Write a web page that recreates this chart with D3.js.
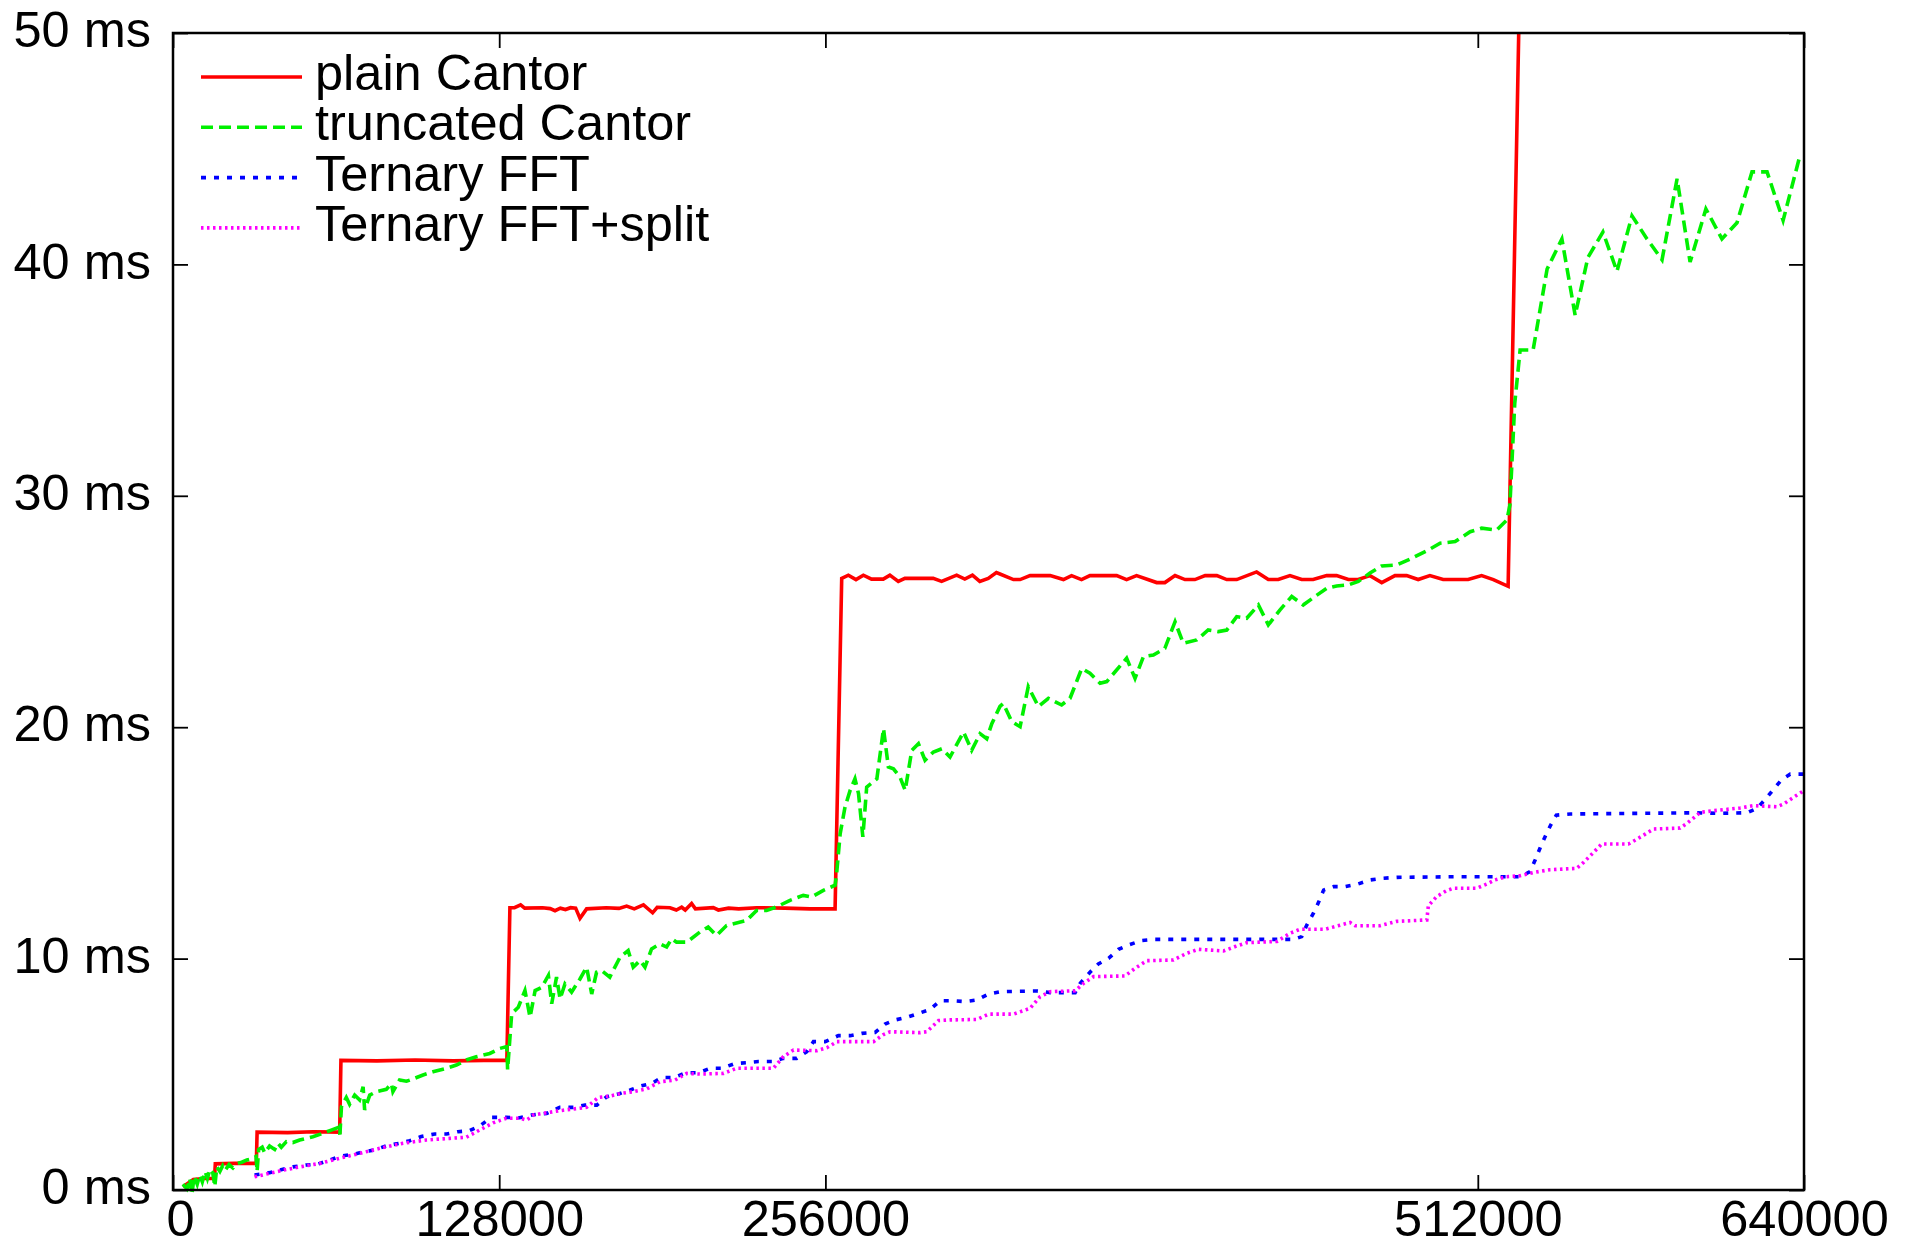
<!DOCTYPE html>
<html>
<head>
<meta charset="utf-8">
<script src="https://cdn.jsdelivr.net/npm/d3@7"></script>
<style>
  body { margin: 0; background: #fff; }
  svg { display: block; font-family: "Liberation Sans", Arial, sans-serif; }
</style>
</head>
<body>
<svg id="chart" width="1908" height="1243"></svg>
<script>
// x values are in thousands of elements, y values in ms
const xTicks = [0, 128, 256, 512, 640];
const yTicks = [0, 10, 20, 30, 40, 50];

const seriesNames = ["plain Cantor", "truncated Cantor", "Ternary FFT", "Ternary FFT+split"];

const plainCantor = [
  [3.9,0.14],[8.0,0.45],[12,0.5],[16.3,0.5],[16.6,1.13],[24,1.15],[32.7,1.15],[33.0,2.5],[45,2.48],[55,2.52],
  [65.4,2.5],[65.9,5.6],[80,5.58],[95,5.62],[110,5.58],[122,5.6],[131.0,5.6],
  [132.2,12.2],[134,12.2],[136.4,12.32],[138,12.18],[145,12.2],[148,12.16],[149.9,12.07],[152,12.18],[154,12.12],
  [156,12.2],[158,12.18],[159.7,11.74],[162.3,12.15],[170,12.2],[175,12.17],[178,12.27],[181,12.15],[184.6,12.32],
  [188.2,11.98],[190,12.22],[195,12.2],[197.5,12.1],[199.6,12.22],[201,12.1],[203.5,12.38],[205,12.15],[212,12.2],
  [214,12.1],[218,12.18],[222,12.15],[229,12.2],[240,12.18],[250,12.15],[259.8,12.15],
  [262.4,26.43],[265.0,26.57],[268.0,26.38],[270.9,26.57],[274.1,26.4],[278.7,26.4],[281.3,26.57],[284.6,26.3],
  [287.2,26.43],[298.3,26.43],[301.6,26.3],[307.5,26.57],[310.7,26.4],[313.7,26.57],[316.6,26.3],[319.9,26.43],
  [323.1,26.68],[324.5,26.62],[329.8,26.38],[332.4,26.38],[336.3,26.55],[344.2,26.55],[349.4,26.38],[352.6,26.55],
  [356.5,26.38],[359.8,26.55],[370.3,26.55],[374.2,26.38],[378.1,26.55],[386,26.25],[389.2,26.25],[393.2,26.55],
  [397.1,26.38],[401,26.38],[405,26.55],[409.6,26.55],[413.5,26.38],[417.4,26.38],[425.2,26.71],[429.8,26.38],
  [433.7,26.38],[438.3,26.55],[442.9,26.38],[447.4,26.38],[452.7,26.55],[456.6,26.55],[461.2,26.38],[465.1,26.38],
  [469.7,26.55],[474.3,26.25],[479.5,26.55],[484.1,26.55],[488.6,26.38],[493.2,26.55],[498.4,26.38],[508.2,26.38],
  [513.5,26.55],[518.1,26.38],[523.9,26.09],[529.8,60]
];

const truncatedCantor = [
  [3.9,0.25],[5.5,0.05],[6.6,0.5],[7.4,-0.2],[8.3,0.6],[9.5,0.25],[10.5,0.65],[11.5,0.35],[12.6,0.8],[13.5,0.5],
  [14.5,0.9],[15.6,0.75],[16.4,0.15],[17.2,1.0],[18.4,0.8],[19.5,1.05],[20.5,0.85],[22,1.1],[23.5,0.95],[25,1.15],
  [27,1.2],[29,1.3],[31,1.35],[32.6,1.45],[33.0,0.8],[33.6,1.75],[35,1.85],[36,1.6],[37.9,1.9],[39.9,1.75],
  [41.2,2.02],[42.5,1.85],[44.5,2.09],[47,2.05],[49.7,2.16],[52.3,2.23],[54.9,2.3],[58.9,2.45],[62.1,2.59],[64.7,2.7],
  [65.5,2.4],[66.1,3.6],[68,4.0],[69.3,3.7],[71.3,4.1],[73.2,3.9],[74.6,4.46],[75.2,3.46],[77.2,4.1],[79.8,4.25],
  [83.7,4.35],[85.7,4.6],[86.3,4.25],[88.9,4.75],[91.6,4.7],[94.2,4.8],[98.1,4.97],[102,5.11],[107.3,5.26],[111.2,5.4],
  [115.1,5.62],[119,5.76],[124.3,5.9],[128.3,6.12],[131.0,6.2],[131.3,5.2],[132.9,7.62],[135.5,7.9],[138.1,8.62],
  [140.1,7.47],[142.1,8.62],[144.7,8.76],[147.3,9.27],[148.6,8.05],[150.5,9.2],[151.9,8.26],[153.8,8.9],[156.4,8.55],
  [159.7,9.12],[162.3,9.63],[164.3,8.47],[166.2,9.41],[168.2,9.48],[171.4,9.2],[175.4,10.06],[178.6,10.35],[180.6,9.63],
  [183.3,9.92],[185.2,9.63],[187.8,10.42],[191.1,10.64],[193.7,10.5],[195.7,10.86],[197.6,10.71],[201.6,10.71],
  [206.8,11.15],[210.0,11.36],[213.3,11.0],[217.2,11.43],[225.1,11.65],[229.0,12.08],[232.9,12.08],[236.8,12.23],
  [242.1,12.52],[247.3,12.73],[250.6,12.66],[255.2,12.95],[259.8,13.17],[260.4,13.67],[261.8,15.4],[263.7,16.55],
  [265.7,17.27],[267.6,17.77],[269.0,17.13],[270.7,15.26],[272.2,17.41],[276.2,17.77],[278.8,19.94],[280.7,18.28],
  [282.7,18.2],[285.3,17.84],[287.3,17.27],[289.9,19.0],[292.5,19.29],[295.1,18.57],[298.4,18.93],[301.7,19.07],
  [304.9,18.71],[310.2,19.79],[313.4,19.0],[316.7,19.72],[319.3,19.5],[321.3,20.15],[324.5,20.9],[325.8,21.03],
  [329.1,20.24],[332.4,20.02],[335.6,21.75],[339.6,20.89],[343.5,21.25],[348.7,20.96],[352.0,21.25],[356.6,22.54],
  [359.8,22.33],[363.8,21.9],[366.4,21.97],[374.2,22.98],[377.5,22.11],[380.8,23.05],[384.7,23.12],[389.2,23.41],
  [393.2,24.56],[396.4,23.63],[401.7,23.77],[406.2,24.2],[410.2,24.13],[413.5,24.2],[417.4,24.78],[421.3,24.71],
  [425.9,25.28],[429.8,24.42],[434.4,25.07],[439.0,25.65],[443.5,25.28],[448.1,25.65],[452.7,26.0],[456.6,26.1],
  [461.2,26.15],[465.1,26.3],[469.7,26.66],[474.3,26.97],[480.2,27.01],[486.1,27.3],[492.6,27.66],[497.2,27.95],
  [503.1,28.02],[509.0,28.45],[513.5,28.6],[519.4,28.52],[523.4,28.95],[524.6,29.6],[526.5,34.0],[528.6,36.3],
  [533.7,36.3],[539.2,39.8],[545.0,41.1],[550.2,37.8],[555.2,40.3],[561.1,41.4],[566.6,39.7],[572.5,42.1],
  [578.4,41.1],[584.3,40.2],[590.2,43.7],[595.3,40.1],[601.5,42.4],[607.8,41.1],[613.7,41.8],[619.6,44.0],
  [625.5,44.0],[631.8,41.9],[638.4,44.7]
];

const ternaryFFT = [
  [32.0,0.65],[37.9,0.75],[41.9,0.86],[47.1,1.0],[52.3,1.08],[56.9,1.12],[61.5,1.3],[66.1,1.47],[70.6,1.54],
  [75.2,1.66],[79.1,1.73],[83.7,1.91],[88.9,2.02],[92.9,2.13],[97.4,2.31],[102.7,2.42],[107.3,2.42],[111.8,2.52],
  [116,2.55],[120.3,2.76],[124.9,3.14],[130.8,3.14],[136,3.12],[140.7,3.24],[146.6,3.31],[151.8,3.57],[157.1,3.57],
  [161.7,3.67],[166.3,3.67],[170.2,4.03],[174.8,4.15],[179.4,4.32],[183.3,4.49],[187.9,4.61],[191.8,4.86],[196.7,4.86],
  [201.3,5.07],[206.3,5.07],[210.8,5.26],[215.4,5.26],[220.6,5.47],[225.1,5.5],[229.7,5.55],[235,5.55],[239.5,5.69],
  [244.7,5.69],[248.7,5.98],[251.3,6.41],[255.9,6.41],[261.1,6.67],[265.7,6.67],[270.3,6.77],[275.5,6.81],[279.4,7.17],
  [283.4,7.35],[287.9,7.46],[292.5,7.63],[297.1,7.8],[301,8.18],[305.6,8.18],[310.8,8.14],[315.4,8.21],[320,8.47],
  [324.5,8.57],[339,8.6],[344.2,8.53],[354,8.53],[356,8.93],[360,9.43],[363.1,9.77],[367.1,10.01],[371,10.4],
  [374.9,10.59],[380.1,10.78],[384.7,10.83],[439.6,10.83],[442.9,10.95],[444.9,11.45],[447.5,11.96],[449.5,12.43],
  [451.5,12.96],[455.4,13.11],[460,13.11],[464.6,13.21],[469.8,13.4],[474.4,13.47],[480.2,13.51],[503.7,13.54],
  [528.6,13.54],[532.5,13.76],[534.5,14.26],[536.4,14.77],[538.4,15.27],[540.6,15.77],[542.8,16.2],[548.3,16.25],
  [596.7,16.3],[607.1,16.28],[617.6,16.3],[621.5,16.49],[624.8,16.88],[628,17.31],[631.3,17.74],[634.6,17.97],[640,17.97]
];

const ternaryFFTsplit = [
  [32.0,0.57],[37.9,0.72],[43,0.85],[48.4,0.97],[57.6,1.15],[65.4,1.37],[73.2,1.58],[81.1,1.8],[90.3,2.02],
  [99.4,2.16],[108.6,2.23],[115.1,2.28],[120.3,2.59],[125.6,2.9],[130.8,3.1],[136.2,3.1],[138.8,3.02],[141.4,3.24],
  [146.6,3.34],[153.2,3.45],[162.3,3.57],[166.9,4.0],[171.5,4.06],[176.1,4.18],[180.7,4.25],[185.9,4.37],[191.1,4.68],
  [197,4.75],[201.6,5.04],[206.8,5.01],[216,5.04],[221.2,5.26],[235.6,5.26],[239.5,5.76],[243.5,6.05],[252.6,6.02],
  [256.6,6.15],[260.5,6.41],[274.9,6.41],[278.8,6.72],[281.4,6.84],[293.2,6.8],[295.8,6.84],[300.4,7.32],[304.9,7.35],
  [315.4,7.37],[320,7.6],[329.8,7.6],[336.3,7.85],[340.2,8.35],[344.2,8.57],[354,8.61],[357.3,8.93],[361.2,9.22],
  [373.6,9.25],[377.5,9.58],[382.1,9.91],[392.6,9.94],[397.8,10.23],[402.4,10.4],[412.2,10.33],[416.8,10.52],
  [421.4,10.69],[433.2,10.74],[438.4,11.1],[442.3,11.27],[452.1,11.27],[461.9,11.56],[463.9,11.42],[473.6,11.42],
  [480.2,11.61],[492,11.67],[492.6,12.29],[495.9,12.68],[499.8,12.94],[502.4,13.04],[511.6,13.04],[515.5,13.22],
  [518.7,13.4],[523.3,13.54],[528.6,13.58],[533.8,13.72],[540.3,13.84],[550.8,13.9],[553.5,14.16],[557.4,14.59],
  [560.6,14.95],[571.1,14.95],[574.4,15.16],[577.7,15.38],[580.9,15.6],[591.4,15.64],[594,15.84],[597.3,16.13],
  [599.3,16.32],[604.5,16.39],[615,16.51],[620.2,16.61],[629.3,16.56],[632,16.68],[635.9,16.97],[640,17.26]
];

const allSeries = [plainCantor, truncatedCantor, ternaryFFT, ternaryFFTsplit];

// line styles, one per series (gnuplot-ish)
const styles = [
  { color: "#ff0000", dash: null },
  { color: "#00f000", dash: "12,6" },
  { color: "#0000ff", dash: "5,8" },
  { color: "#ff00ff", dash: "2.5,3.5" }
];

const margin = { top: 33, right: 104, bottom: 53, left: 173 };
const width = 1908 - margin.left - margin.right;
const height = 1243 - margin.top - margin.bottom;

const svg = d3.select("#chart");
const g = svg.append("g").attr("transform", `translate(${margin.left},${margin.top})`);

const x = d3.scaleLinear().domain([0, 640]).range([0, width]);
const y = d3.scaleLinear().domain([0, 50]).range([height, 0]);

// clip so the red line stops at the top border
svg.append("defs").append("clipPath").attr("id", "plot-clip")
  .append("rect")
    .attr("x", 0).attr("y", 0)
    .attr("width", width).attr("height", height + 6);

const fontSize = 50.5;

// axes: ticks point inward on all four sides
const axisStyle = sel => {
  sel.select(".domain").remove();
  sel.selectAll(".tick line").attr("stroke", "#000").attr("stroke-width", 1.8);
  sel.selectAll("text").attr("fill", "#000").style("font-size", fontSize + "px");
};

g.append("g")
  .attr("transform", `translate(0,${height})`)
  .call(d3.axisBottom(x).tickValues(xTicks).tickSize(-15).tickPadding(10)
    .tickFormat(d => String(d * 1000)))
  .call(axisStyle)
  .call(s => s.selectAll("text")
    .attr("dy", "0.71em")
    .attr("dx", d => d === 0 ? 7 : 0));

g.append("g")
  .call(d3.axisTop(x).tickValues(xTicks).tickSize(-15).tickFormat(""))
  .call(axisStyle);

g.append("g")
  .call(d3.axisLeft(y).tickValues(yTicks).tickSize(-15).tickPadding(22)
    .tickFormat(d => d + " ms"))
  .call(axisStyle)
  .call(s => s.selectAll("text").attr("dy", "0.27em"));

g.append("g")
  .attr("transform", `translate(${width},0)`)
  .call(d3.axisRight(y).tickValues(yTicks).tickSize(-15).tickFormat(""))
  .call(axisStyle);

const line = d3.line()
  .x(d => x(d[0]))
  .y(d => y(d[1]));

g.append("g")
  .attr("clip-path", "url(#plot-clip)")
  .selectAll("path")
  .data(allSeries)
  .join("path")
    .attr("d", line)
    .attr("fill", "none")
    .attr("stroke", (d, i) => styles[i].color)
    .attr("stroke-width", 3.6)
    .attr("stroke-linejoin", "miter")
    .attr("stroke-dasharray", (d, i) => styles[i].dash);

// border
g.append("rect")
  .attr("width", width)
  .attr("height", height)
  .attr("fill", "none")
  .attr("stroke", "#000")
  .attr("stroke-width", 2.5);

// legend, top left inside the plot
const legend = g.append("g").attr("transform", "translate(28,44)");
const rows = legend.selectAll("g")
  .data(seriesNames)
  .join("g")
    .attr("transform", (d, i) => `translate(0,${i * 50.3})`);

rows.append("line")
  .attr("x1", 0).attr("x2", 101)
  .attr("stroke", (d, i) => styles[i].color)
  .attr("stroke-width", 3.6)
  .attr("stroke-dasharray", (d, i) => styles[i].dash);

rows.append("text")
  .attr("x", 114)
  .attr("y", 13)
  .style("font-size", fontSize + "px")
  .attr("fill", "#000")
  .text(d => d);
</script>
</body>
</html>
